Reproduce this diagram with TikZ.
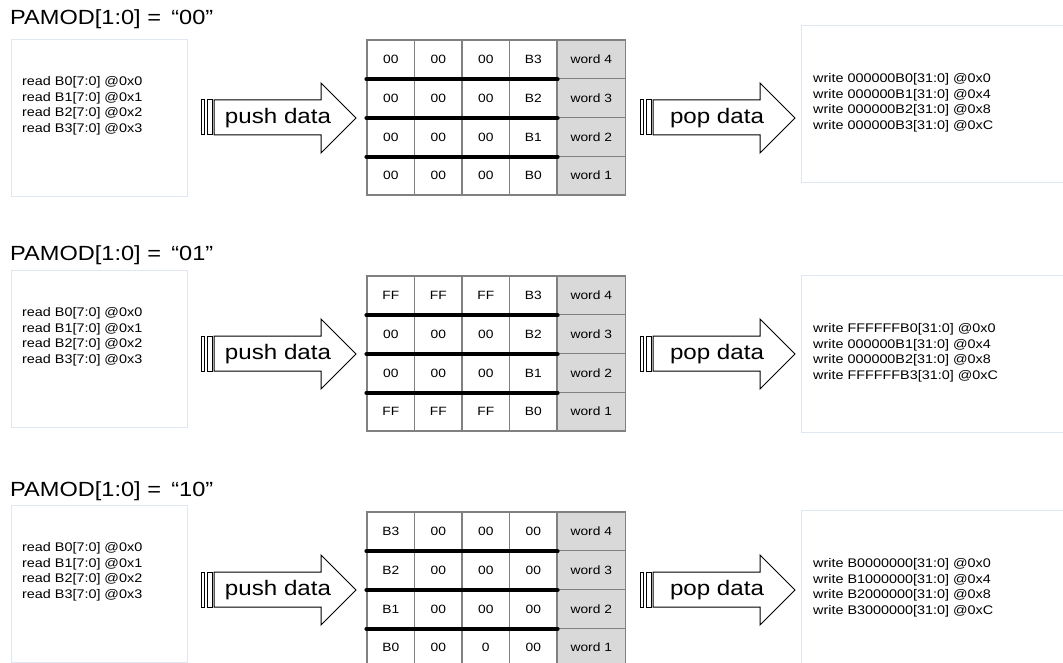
\documentclass[tikz,border=0pt]{standalone}
\usepackage{fontspec}
\setmainfont{Liberation Sans}[FakeStretch=1.15]
\usepackage{tikz}
\definecolor{boxline}{RGB}{224,231,240}
\definecolor{cellline}{RGB}{128,128,128}
\definecolor{wordfill}{RGB}{217,217,217}

\begin{document}
\begin{tikzpicture}[x=1pt, y=-1pt,
  title/.style={anchor=west, inner sep=0pt, font=\fontsize{20.5}{24}\selectfont},
  listing/.style={anchor=west, align=left, inner sep=0pt, font=\fontsize{12.5}{15.5}\selectfont},
  memo/.style={draw=boxline, fill=white, line width=0.8pt},
  bigarrow/.style={draw=black, fill=white, line width=1pt, line join=miter},
  arrowlabel/.style={inner sep=0pt, font=\fontsize{21}{24}\selectfont},
  byte/.style={draw=cellline, fill=white, line width=1.2pt, minimum width=47.5pt,
    minimum height=38.75pt, inner sep=0pt, font=\fontsize{12}{14}\selectfont},
  word/.style={byte, fill=wordfill, minimum width=68.5pt},
  sep/.style={line width=4pt, line cap=round}]
  \useasboundingbox (0,0) rectangle (1063,663);
  \foreach \p/\dy/\lt/\rt/\mode/\rows/\writes in {
    1/0/39/25/00/{00/00/00/B3,00/00/00/B2,00/00/00/B1,00/00/00/B0}/{write 000000B0[31:0] @0x0\\write 000000B1[31:0] @0x4\\write 000000B2[31:0] @0x8\\write 000000B3[31:0] @0xC},
    2/236/270/275/01/{FF/FF/FF/B3,00/00/00/B2,00/00/00/B1,FF/FF/FF/B0}/{write FFFFFFB0[31:0] @0x0\\write 000000B1[31:0] @0x4\\write 000000B2[31:0] @0x8\\write FFFFFFB3[31:0] @0xC},
    3/472/505/510/10/{B3/00/00/00,B2/00/00/00,B1/00/00/00,B0/00/0/00}/{write B0000000[31:0] @0x0\\write B1000000[31:0] @0x4\\write B2000000[31:0] @0x8\\write B3000000[31:0] @0xC}} {
    % heading
    \node[title] (mode\p) at (10,19+\dy) {PAMOD[1:0] =\enspace “\mode”};
    % read side
    \draw[memo] (11,\lt) rectangle (187,\lt+157);
    \node[listing] (read\p) at (22,\lt+67) {read B0[7:0] @0x0\\read B1[7:0] @0x1\\read B2[7:0] @0x2\\read B3[7:0] @0x3};
    % write side
    \draw[memo] (801,\rt) rectangle (1075,\rt+157);
    \node[listing] (write\p) at (813,\rt+78) {\writes};
    % push / pop arrows
    \foreach \ax/\lbl/\nm in {0/push data/push,439/pop data/pop} {
      \draw[bigarrow] (201+\ax,100+\dy) rectangle (204+\ax,135+\dy);
      \draw[bigarrow] (207+\ax,100+\dy) rectangle (212+\ax,135+\dy);
      \draw[bigarrow] (214+\ax,100+\dy) -- (321+\ax,100+\dy) -- (321+\ax,83+\dy)
        -- (356+\ax,118+\dy) -- (321+\ax,153+\dy) -- (321+\ax,135+\dy) -- (214+\ax,135+\dy) -- cycle;
      \node[arrowlabel] (\nm\p) at (278+\ax,118+\dy) {\lbl};
    }
    % fifo words
    \foreach \ba/\bb/\bc/\bd [count=\r] in \rows {
      \pgfmathtruncatemacro\w{5-\r}
      \foreach \v [count=\k] in {\ba,\bb,\bc,\bd}
        \node[byte] (c\p-\r-\k) at (343.25+47.5*\k, 20.625+\dy+38.75*\r) {\v};
      \node[word] (w\p-\r) at (591.25, 20.625+\dy+38.75*\r) {word \w};
    }
    \foreach \r in {1,2,3}
      \draw[sep] (c\p-\r-1.south west) -- (c\p-\r-4.south east);
  }
\end{tikzpicture}
\end{document}
